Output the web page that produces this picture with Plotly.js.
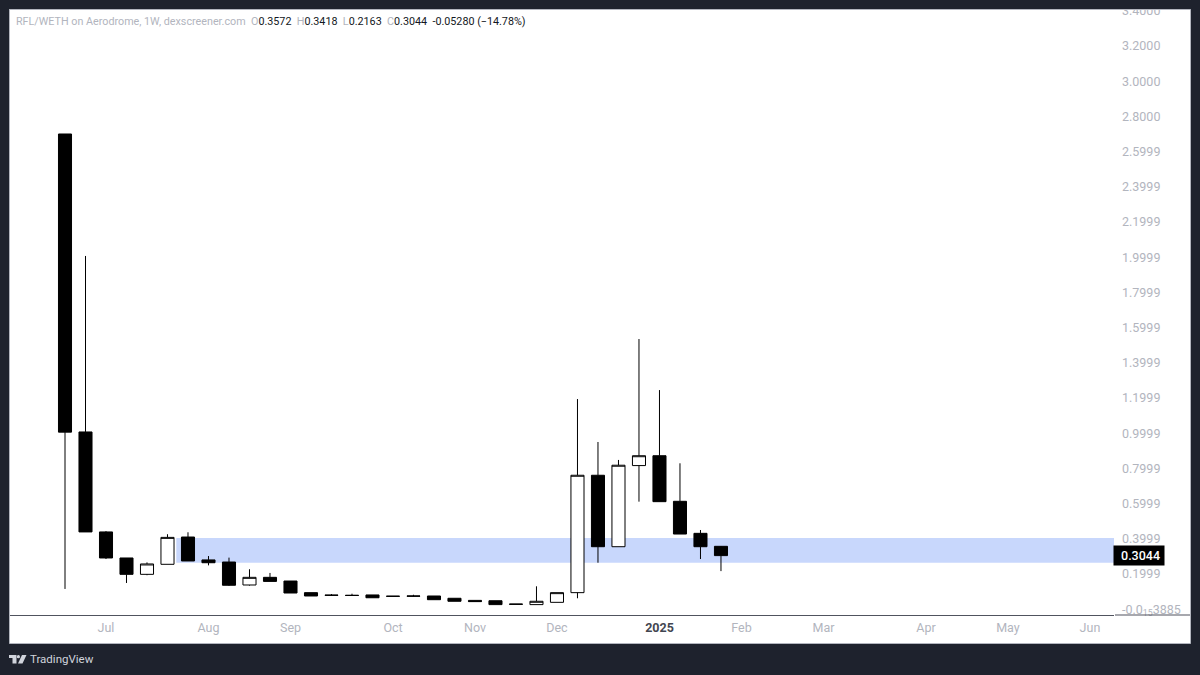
<!DOCTYPE html>
<html><head><meta charset="utf-8">
<script src="https://cdn.plot.ly/plotly-3.0.1.min.js"></script>
<style>html,body{margin:0;padding:0;background:#1e222d}#c{width:1200px;height:675px}</style>
</head><body><div id="c"></div>
<script>
const dates = ["2024-06-17","2024-06-24","2024-07-01","2024-07-08","2024-07-15","2024-07-22","2024-07-29","2024-08-05","2024-08-12","2024-08-19","2024-08-26","2024-09-02","2024-09-09","2024-09-16","2024-09-23","2024-09-30","2024-10-07","2024-10-14","2024-10-21","2024-10-28","2024-11-04","2024-11-11","2024-11-18","2024-11-25","2024-12-02","2024-12-09","2024-12-16","2024-12-23","2024-12-30","2025-01-06","2025-01-13","2025-01-20","2025-01-27"];
const opens  = [2.700,1.007,0.439,0.291,0.198,0.255,0.410,0.280,0.268,0.1375,0.181,0.160,0.094,0.080,0.079,0.081,0.074,0.075,0.075,0.062,0.050,0.048,0.029,0.026,0.039,0.094,0.761,0.355,0.816,0.872,0.613,0.431,0.3572];
const highs  = [2.700,2.007,0.444,0.291,0.266,0.426,0.437,0.302,0.293,0.227,0.206,0.160,0.094,0.086,0.088,0.081,0.074,0.082,0.075,0.062,0.050,0.048,0.029,0.130,0.094,1.194,0.950,0.848,1.535,1.245,0.829,0.450,0.3418];
const lows   = [0.115,0.439,0.285,0.149,0.193,0.255,0.274,0.249,0.132,0.134,0.158,0.092,0.075,0.078,0.076,0.065,0.073,0.072,0.054,0.045,0.043,0.026,0.028,0.026,0.039,0.062,0.264,0.355,0.611,0.611,0.427,0.285,0.2163];
const closes = [1.006,0.439,0.291,0.198,0.257,0.408,0.274,0.264,0.136,0.181,0.158,0.092,0.075,0.079,0.078,0.065,0.073,0.074,0.054,0.045,0.043,0.026,0.028,0.045,0.094,0.761,0.355,0.818,0.872,0.611,0.427,0.355,0.3044];

const priceTicks = [3.4,3.2,3.0,2.8,2.6,2.4,2.2,2.0,1.8,1.6,1.4,1.2,1.0,0.8,0.6,0.4,0.2,0];
const priceLabels = ["3.4000","3.2000","3.0000","2.8000","2.5999","2.3999","2.1999","1.9999","1.7999","1.5999","1.3999","1.1999","0.9999","0.7999","0.5999","0.3999","0.1999","-0.0<sub>15</sub>3885"];
const monthTicks = ["2024-07-01","2024-08-05","2024-09-02","2024-10-07","2024-11-04","2024-12-02","2025-01-06","2025-02-03","2025-03-03","2025-04-07","2025-05-05","2025-06-02"];
const monthLabels = ["Jul","Aug","Sep","Oct","Nov","Dec","<b style=\"color:#434651\">2025</b>","Feb","Mar","Apr","May","Jun"];
const bandLow = 0.264, bandHigh = 0.4045, bandStart = "2024-07-25", bandEnd = "2025-06-10 05:00";
const lastPrice = 0.3044;
const viewX = ["2024-05-29 05:17","2025-06-10 05:00"];
const viewY = [-0.033,3.4045];

const W=1200,H=675,L=10,R=86,T=10,B=60;
const px=x=>(x-L)/(W-L-R), py=y=>1-(y-T)/(H-T-B);
const rectP=(x0,y0,x1,y1,extra)=>Object.assign({type:'rect',xref:'paper',yref:'paper',x0:px(x0),x1:px(x1),y0:py(y0),y1:py(y1),line:{width:0}},extra);
const poly=pts=>'M'+pts.map(p=>px(p[0])+','+py(p[1])).join('L')+'Z';
const pathP=(pts,c)=>({type:'path',xref:'paper',yref:'paper',path:poly(pts),fillcolor:c,line:{width:0},layer:'above'});
const logoC='#d1d4dc';
const shapes=[
 rectP(9.5,9.5,1190.5,643.5,{fillcolor:'#ffffff',line:{color:'#b2b5be',width:1},layer:'below'}),
 {type:'rect',xref:'x',yref:'y',x0:bandStart,x1:bandEnd,y0:bandLow,y1:bandHigh,fillcolor:'#c8d7fc',line:{width:0},layer:'below'},
 rectP(1115,614.5,1190,615.5,{fillcolor:'#50535e',layer:'above'}),
 rectP(0,0,1200,9,{fillcolor:'#1e222d',layer:'above'}),
 rectP(9,9,1190.5,10,{fillcolor:'#b2b5be',layer:'above'}),
 pathP([[9,655],[16.5,655],[16.5,663.5],[12.5,663.5],[12.5,658],[9,658]],logoC),
 {type:'circle',xref:'paper',yref:'paper',x0:px(16.8),x1:px(20),y0:py(658.3),y1:py(655),fillcolor:logoC,line:{width:0},layer:'above'},
 pathP([[22,655],[26.5,655],[22.5,663.5],[18,663.5]],logoC)
];
const G='#b2b5be',D='#131722';
const header=`<span style="color:${G}">RFL/WETH on Aerodrome, 1W, dexscreener.com</span>  `+
 `<span style="color:${G}">O</span><span style="color:${D}">0.3572</span>  <span style="color:${G}">H</span><span style="color:${D}">0.3418</span>  `+
 `<span style="color:${G}">L</span><span style="color:${D}">0.2163</span>  <span style="color:${G}">C</span><span style="color:${D}">0.3044  -0.05280 (−14.78%)</span>`;
const annotations=[
 {xref:'paper',yref:'paper',x:px(14),y:py(22),xanchor:'left',yanchor:'middle',text:header,showarrow:false,font:{family:'Roboto, sans-serif',size:10.75,color:D}},
 {xref:'paper',yref:'y',x:px(1113),y:lastPrice,xanchor:'left',yanchor:'middle',text:'&nbsp;0.3044',showarrow:false,width:50,height:19,bgcolor:'#000000',borderpad:0,align:'center',font:{family:'Roboto, sans-serif',size:12.5,weight:500,color:'#ffffff'}},
 {xref:'paper',yref:'paper',x:px(28),y:py(659),xanchor:'left',yanchor:'middle',text:'TradingView',showarrow:false,font:{family:'Roboto, sans-serif',size:11.5,color:'#d1d4dc'}}
];
const trace={type:'candlestick',x:dates,open:opens,high:highs,low:lows,close:closes,
 increasing:{line:{color:'#000000',width:1},fillcolor:'#ffffff'},
 decreasing:{line:{color:'#000000',width:1},fillcolor:'#000000'},
 whiskerwidth:0,hoverinfo:'none',showlegend:false};
const layout={width:W,height:H,margin:{l:L,r:R,t:T,b:B,pad:0},paper_bgcolor:'#1e222d',plot_bgcolor:'rgba(0,0,0,0)',
 showlegend:false,boxgap:0.09,shapes,annotations,
 xaxis:{type:'date',range:viewX,rangeslider:{visible:false},tickmode:'array',tickvals:monthTicks,ticktext:monthLabels,
  showgrid:false,zeroline:false,showline:true,linecolor:'#50535e',linewidth:1,ticks:'',ticklabelstandoff:1,
  tickangle:0,tickfont:{family:'Roboto, sans-serif',size:12.5,color:G}},
 yaxis:{side:'right',range:viewY,tickmode:'array',tickvals:priceTicks,ticktext:priceLabels,showgrid:false,zeroline:false,showline:false,ticks:'',
  ticklabelstandoff:7,tickfont:{family:'Roboto, sans-serif',size:12.5,color:G}}
};
Plotly.newPlot('c',[trace],layout,{staticPlot:true,displayModeBar:false});
</script></body></html>
